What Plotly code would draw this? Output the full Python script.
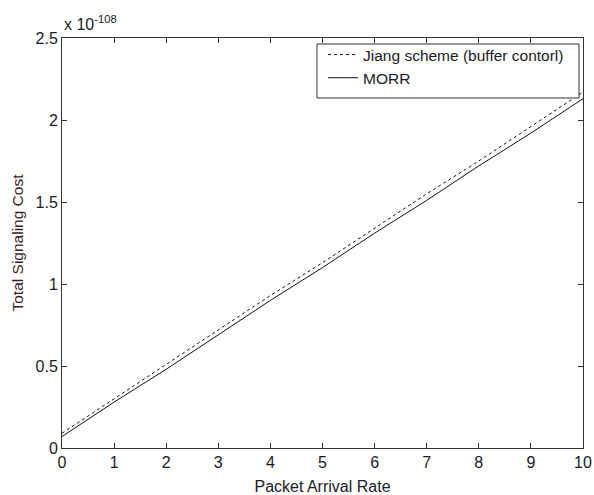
import plotly.graph_objects as go

x_vals = [0, 1, 2, 3, 4, 5, 6, 7, 8, 9, 10]
jiang = [0.09, 0.30, 0.51, 0.72, 0.93, 1.13, 1.34, 1.55, 1.75, 1.96, 2.17]
morr = [0.07, 0.28, 0.48, 0.69, 0.90, 1.10, 1.31, 1.51, 1.72, 1.92, 2.13]
x_ticks = list(range(0, 11))
y_ticks = [0, 0.5, 1, 1.5, 2, 2.5]
y_tick_text = ["0", "0.5", "1", "1.5", "2", "2.5"]

font_family = "Liberation Sans, Arial, sans-serif"
txt = "#1a1a2a"

fig = go.Figure()
fig.add_trace(go.Scatter(x=x_vals, y=jiang, mode="lines", name="Jiang scheme (buffer contorl)",
                         line=dict(color="#111", width=1, dash="3px,3px")))
fig.add_trace(go.Scatter(x=x_vals, y=morr, mode="lines", name="MORR",
                         line=dict(color="#111", width=1)))

axis_common = dict(showgrid=False, zeroline=False, showline=True, linecolor="#333", linewidth=1,
                   mirror="ticks", ticks="inside", ticklen=5, tickcolor="#333", automargin=False,
                   tickfont=dict(family=font_family, size=16, color=txt))

fig.update_xaxes(range=[0, 10], tickvals=x_ticks, title=dict(text="Packet Arrival Rate",
                 font=dict(family=font_family, size=16, color=txt), standoff=12), **axis_common)
fig.update_yaxes(range=[0, 2.5], tickvals=y_ticks, ticktext=y_tick_text,
                 title=dict(text="Total Signaling Cost", font=dict(family=font_family, size=15.5, color="#3a1a24"), standoff=8),
                 **axis_common)

fig.add_annotation(x=0, y=1, xref="paper", yref="paper", xanchor="left", yanchor="bottom",
                   text="x 10<sup>-108</sup>", showarrow=False, yshift=3,
                   font=dict(family=font_family, size=16, color=txt))

# legend box (MATLAB style, extra padding at bottom)
fig.add_shape(type="rect", xref="paper", yref="paper", x0=0.4894, x1=0.9923, y0=0.8537, y1=0.9854,
              line=dict(color="#333", width=1), fillcolor="white", layer="above")

fig.update_layout(
    width=594, height=495,
    margin=dict(l=62, r=11, t=38, b=47),
    paper_bgcolor="white", plot_bgcolor="white",
    showlegend=True,
    legend=dict(x=0.501, y=1.0, xanchor="left", yanchor="top", bgcolor="rgba(0,0,0,0)",
                borderwidth=0, tracegroupgap=0,
                font=dict(family=font_family, size=15.5, color=txt)),
)

fig.write_html("out.html")
